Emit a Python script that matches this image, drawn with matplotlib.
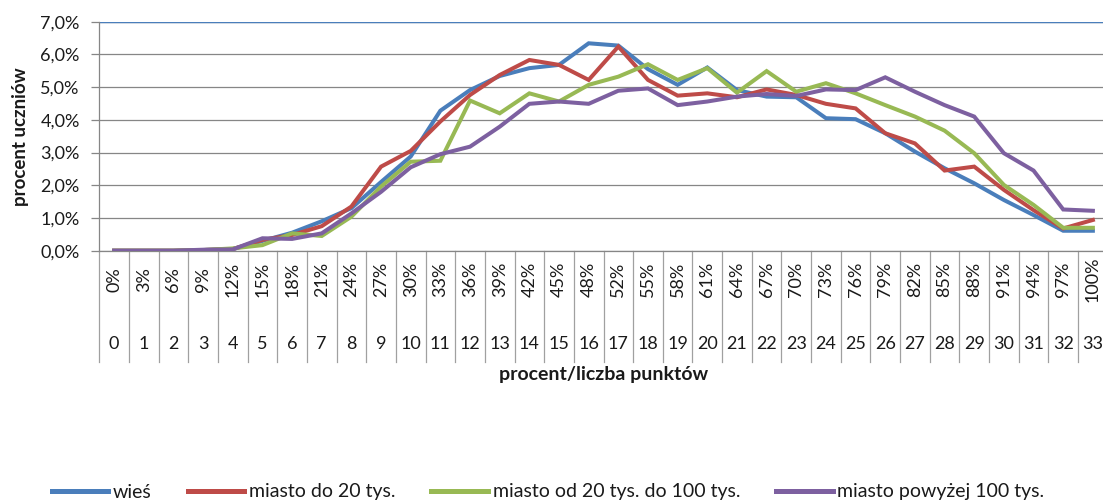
import numpy as np
import matplotlib
matplotlib.use("Agg")
import matplotlib.pyplot as plt
from matplotlib.ticker import FuncFormatter

plt.rcParams['font.family'] = ['Lato', 'DejaVu Sans']

# punkty 0..33 i odpowiadajace im procenty
points = list(range(34))
pct_labels = ["0%", "3%", "6%", "9%", "12%", "15%", "18%", "21%", "24%", "27%",
              "30%", "33%", "36%", "39%", "42%", "45%", "48%", "52%", "55%", "58%",
              "61%", "64%", "67%", "70%", "73%", "76%", "79%", "82%", "85%", "88%",
              "91%", "94%", "97%", "100%"]

# procent uczniow (w %)
wies = [0, 0, 0, 0.02, 0.05, 0.30, 0.55, 0.90, 1.30, 2.10, 2.88, 4.28, 4.91, 5.34,
        5.58, 5.68, 6.34, 6.27, 5.55, 5.07, 5.60, 4.91, 4.71, 4.69, 4.05, 4.02,
        3.59, 3.03, 2.52, 2.06, 1.55, 1.09, 0.61, 0.61]
miasto_20 = [0, 0, 0, 0.02, 0.05, 0.33, 0.48, 0.75, 1.35, 2.57, 3.05, 3.95, 4.76, 5.37,
             5.83, 5.68, 5.22, 6.24, 5.22, 4.74, 4.81, 4.69, 4.93, 4.76, 4.49, 4.35,
             3.59, 3.28, 2.45, 2.57, 1.86, 1.24, 0.68, 0.94]
miasto_20_100 = [0, 0, 0, 0.02, 0.07, 0.17, 0.53, 0.45, 1.04, 1.96, 2.72, 2.75, 4.59, 4.20,
                 4.81, 4.56, 5.07, 5.32, 5.70, 5.22, 5.58, 4.83, 5.49, 4.86, 5.12, 4.81,
                 4.45, 4.10, 3.67, 2.98, 2.01, 1.40, 0.70, 0.70]
miasto_100 = [0, 0, 0, 0.03, 0.04, 0.38, 0.36, 0.53, 1.14, 1.80, 2.55, 2.95, 3.18, 3.79,
              4.49, 4.56, 4.49, 4.89, 4.96, 4.45, 4.56, 4.71, 4.79, 4.73, 4.93, 4.91,
              5.30, 4.86, 4.45, 4.10, 2.98, 2.45, 1.26, 1.22]

series = [("wieś", wies, "#4A7EBB"),
          ("miasto do 20 tys.", miasto_20, "#BE4B48"),
          ("miasto od 20 tys. do 100 tys.", miasto_20_100, "#98B954"),
          ("miasto powyżej 100 tys.", miasto_100, "#7D60A0")]

W, H = 1103, 500
FS = 13
txt = "#1a1a1a"
fig = plt.figure(figsize=(W / 100, H / 100), dpi=100)
left, right, top, bottom = 99.3, 1107.7, 21.7, 250.7
ax = fig.add_axes([left / W, 1 - bottom / H, (right - left) / W, (bottom - top) / H])

grey = "#868686"
for name, vals, col in series:
    ax.plot(points, np.array(vals) / 100, color=col, lw=2.9, label=name,
            solid_joinstyle="miter", zorder=3)

ax.set_xlim(-0.5, 33.5)
ax.set_ylim(0, 0.07)
ax.set_yticks(np.arange(0, 0.0701, 0.01))
ax.yaxis.set_major_formatter(FuncFormatter(lambda v, p: f"{v*100:.1f}%".replace(".", ",")))
ax.tick_params(axis='y', length=5.5, width=0.9, color=grey, pad=8.5, labelsize=FS,
               labelcolor=txt)
ax.set_xticks([])
ax.yaxis.grid(True, color=grey, lw=0.9)
ax.set_axisbelow(True)
ax.axhline(0.07, color="#4A7EBB", lw=1.0, zorder=2)

for s in ["top", "right"]:
    ax.spines[s].set_visible(False)
for s in ["left", "bottom"]:
    ax.spines[s].set_color(grey)
    ax.spines[s].set_linewidth(0.9)

# dwupoziomowe etykiety osi X
ph = bottom - top
tr = ax.get_xaxis_transform()
for k in range(-1, 34):
    ax.plot([k + 0.5, k + 0.5], [0, -111 / ph], transform=tr, color="#a0a0a0",
            lw=0.9, clip_on=False)
for k in points:
    ax.text(k, -29 / ph, pct_labels[k], transform=tr, rotation=90, ha="center",
            va="center", fontsize=FS, color=txt)
    ax.text(k, -93 / ph, str(k), transform=tr, ha="center", va="center",
            fontsize=FS, color=txt)

ax.text(0.5, -124 / ph, "procent/liczba punktów", transform=ax.transAxes,
        ha="center", va="center", fontsize=14, fontweight="bold", color=txt)
ax.text((20.5 - left) / (right - left), 0.5, "procent uczniów", transform=ax.transAxes,
        rotation=90, ha="center", va="center", fontsize=13.5, fontweight="bold", color=txt)

fig.legend(loc="center", bbox_to_anchor=(0.497, 0.016), ncol=4, frameon=False,
           fontsize=14, handlelength=2.9, handletextpad=0.25, columnspacing=1.85,
           labelcolor=txt)
leg = fig.legends[0]
for line in leg.get_lines():
    line.set_linewidth(3.6)

fig.savefig("out.png", dpi=100)
